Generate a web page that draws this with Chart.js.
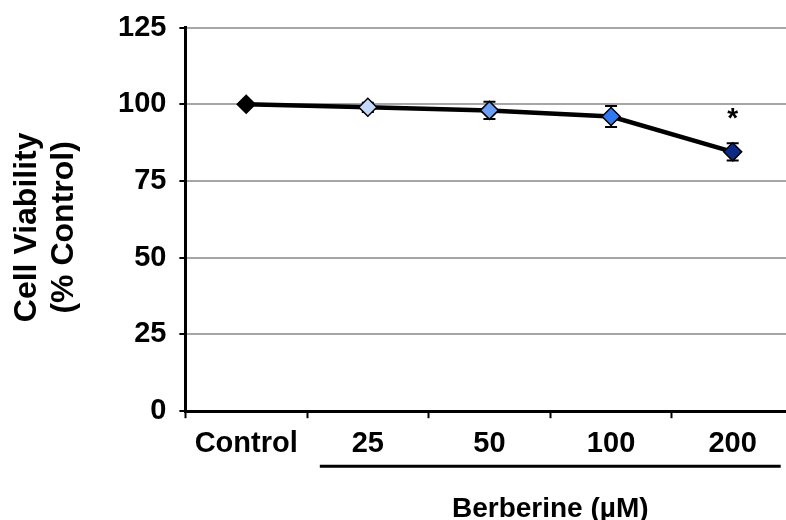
<!DOCTYPE html>
<html>
<head>
<meta charset="utf-8">
<script src="https://cdn.jsdelivr.net/npm/chart.js@4"></script>
<style>
  html, body { margin: 0; padding: 0; overflow: hidden; background: #fff; }
  #wrap { width: 804px; height: 520px; }
</style>
</head>
<body>
<div id="wrap"><canvas id="chart"></canvas></div>
<script>
const categories = ["Control", "25", "50", "100", "200"];
const viability = [100, 99, 98, 96, 84.5];
const errors = [0, 1.5, 2.8, 3.4, 2.8];
const markerColors = ["#000000", "#c3d8fa", "#6d9ef5", "#2f78f2", "#0b2a88"];
const sigMarks = ["", "", "", "", "*"];
const yTitle = ["Cell Viability", "(% Control)"];
const groupLabel = "Berberine (µM)";

const FONT = "'Liberation Sans', Arial, sans-serif";
Chart.defaults.font.family = FONT;
Chart.defaults.color = "#000";

// error bars, the star, the bracket under the doses and the titles
const extras = {
  id: "extras",
  beforeDatasetsDraw(chart) {
    const ctx = chart.ctx;
    const x = chart.scales.x, y = chart.scales.y;
    ctx.save();
    ctx.strokeStyle = "#000";
    ctx.lineWidth = 2;
    viability.forEach((v, i) => {
      if (!errors[i]) return;
      const px = x.getPixelForValue(i);
      const top = y.getPixelForValue(v + errors[i]);
      const bot = y.getPixelForValue(v - errors[i]);
      ctx.beginPath();
      ctx.moveTo(px, top); ctx.lineTo(px, bot);
      ctx.moveTo(px - 6, top); ctx.lineTo(px + 6, top);
      ctx.moveTo(px - 6, bot); ctx.lineTo(px + 6, bot);
      ctx.stroke();
    });
    ctx.restore();
  },
  afterDraw(chart) {
    const ctx = chart.ctx;
    const x = chart.scales.x, y = chart.scales.y;
    const area = chart.chartArea;
    ctx.save();
    ctx.fillStyle = "#000";

    // significance marks
    ctx.font = "bold 28px " + FONT;
    ctx.textAlign = "center";
    ctx.textBaseline = "alphabetic";
    sigMarks.forEach((m, i) => {
      if (!m) return;
      const px = x.getPixelForValue(i);
      const py = y.getPixelForValue(viability[i] + errors[i]);
      ctx.fillText(m, px, py - 16);
    });

    // bracket line under the berberine doses
    const x0 = x.getPixelForValue(1) - 48;
    const x1 = x.getPixelForValue(categories.length - 1) + 48;
    ctx.strokeStyle = "#000";
    ctx.lineWidth = 3;
    ctx.beginPath();
    ctx.moveTo(x0, area.bottom + 55);
    ctx.lineTo(x1, area.bottom + 55);
    ctx.stroke();
    ctx.fillText(groupLabel, (x0 + x1) / 2, area.bottom + 106);

    // y axis title, two lines
    ctx.font = "bold 32px " + FONT;
    const cy = (area.top + area.bottom) / 2 + 8;
    [36, 73].forEach((bx, i) => {
      ctx.save();
      ctx.translate(bx, cy);
      ctx.rotate(-Math.PI / 2);
      ctx.fillText(yTitle[i], 0, 0);
      ctx.restore();
    });
    ctx.restore();
  }
};

new Chart(document.getElementById("chart"), {
  type: "line",
  data: {
    labels: categories,
    datasets: [
      {
        data: viability,
        borderColor: "#000",
        borderWidth: 4.5,
        pointStyle: "rectRot",
        pointRadius: 9,
        pointBorderWidth: 1.5,
        pointBorderColor: "#000",
        pointBackgroundColor: markerColors,
        tension: 0,
      },
    ],
  },
  options: {
    responsive: true,
    maintainAspectRatio: false,
    animation: false,
    layout: { padding: { left: 105, top: 0, right: 0, bottom: 51 } },
    plugins: { legend: { display: false }, tooltip: { enabled: false } },
    scales: {
      x: {
        offset: true,
        grid: {
          offset: true,
          drawOnChartArea: false,
          tickLength: 7,
          tickColor: "#000",
          tickWidth: 2,
        },
        border: { color: "#000", width: 3 },
        ticks: { color: "#000", padding: 8, font: { size: 29, weight: "bold" } },
      },
      y: {
        min: 0,
        max: 125,
        grid: {
          color: "#a6a6a6",
          lineWidth: 2,
          tickLength: 6,
          tickColor: "#000",
          tickWidth: 2,
        },
        border: { color: "#000", width: 3 },
        ticks: {
          stepSize: 25,
          color: "#000",
          padding: 13,
          font: { size: 29, weight: "bold", lineHeight: 1.0 },
        },
      },
    },
  },
  plugins: [extras],
});
</script>
</body>
</html>
